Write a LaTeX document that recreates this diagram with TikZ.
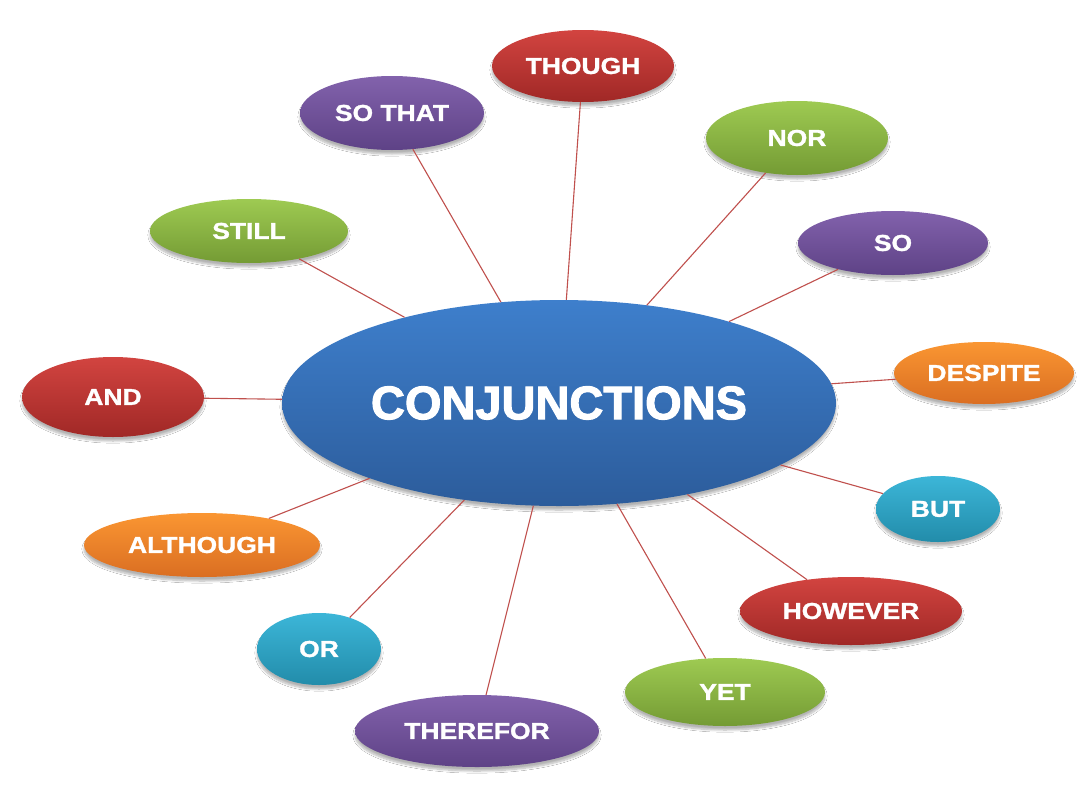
\documentclass[tikz,border=0pt]{standalone}
\usepackage{fontspec}
\setmainfont{Liberation Sans}
\newfontfamily\labfont{Liberation Sans}[FakeStretch=1.15,FakeBold=1.4]
\newfontfamily\mainlab{Liberation Sans}[FakeStretch=1.0,FakeBold=2.2]
\usetikzlibrary{shapes.geometric,shadows.blur}
\definecolor{linkred}{RGB}{192,80,77}
\definecolor{blueT}{RGB}{62,127,204}
\definecolor{blueB}{RGB}{44,92,155}
\definecolor{redT}{RGB}{210,68,64}
\definecolor{redB}{RGB}{160,40,38}
\definecolor{greenT}{RGB}{158,202,82}
\definecolor{greenB}{RGB}{116,155,52}
\definecolor{purpleT}{RGB}{130,98,172}
\definecolor{purpleB}{RGB}{94,66,134}
\definecolor{orangeT}{RGB}{250,150,50}
\definecolor{orangeB}{RGB}{218,110,34}
\definecolor{aquaT}{RGB}{60,182,216}
\definecolor{aquaB}{RGB}{34,140,170}
\tikzset{
  bub/.style={ellipse, inner sep=0pt, text=white,
    font=\labfont\bfseries\fontsize{23}{23}\selectfont,
    blur shadow={shadow xshift=0pt, shadow yshift=-4pt, shadow opacity=30, shadow blur steps=8}},
  cred/.style={bub, top color=redT, bottom color=redB},
  cgreen/.style={bub, top color=greenT, bottom color=greenB},
  cpurple/.style={bub, top color=purpleT, bottom color=purpleB},
  corange/.style={bub, top color=orangeT, bottom color=orangeB},
  caqua/.style={bub, top color=aquaT, bottom color=aquaB},
  cblue/.style={bub, top color=blueT, bottom color=blueB,
    font=\mainlab\bfseries\fontsize{47}{47}\selectfont},
  link/.style={draw=linkred, line width=1.1pt}
}
\begin{document}
\begin{tikzpicture}[x=1pt,y=-1pt]
\fill[white] (0,0) rectangle (1090,798);
\useasboundingbox (0,0) rectangle (1090,798);
\node[cblue, minimum width=554pt, minimum height=206pt] (c) at (559,403) {CONJUNCTIONS};
\node[cred, minimum width=182pt, minimum height=72pt] (though) at (583,66) {THOUGH};
\node[cpurple, minimum width=184pt, minimum height=74pt] (sothat) at (392,113) {SO THAT};
\node[cgreen, minimum width=182pt, minimum height=74pt] (nor) at (797,138) {NOR};
\node[cgreen, minimum width=198pt, minimum height=64pt] (still) at (249,231) {STILL};
\node[cpurple, minimum width=190pt, minimum height=64pt] (so) at (893,243) {SO};
\node[cred, minimum width=182pt, minimum height=80pt] (and) at (113,397) {AND};
\node[corange, minimum width=180pt, minimum height=62pt] (despite) at (984,373) {DESPITE};
\node[caqua, minimum width=124pt, minimum height=66pt] (but) at (938,509) {BUT};
\node[corange, minimum width=236pt, minimum height=64pt] (although) at (202,545) {ALTHOUGH};
\node[cred, minimum width=222pt, minimum height=68pt] (however) at (851,611) {HOWEVER};
\node[caqua, minimum width=124pt, minimum height=72pt] (or) at (319,649) {OR};
\node[cgreen, minimum width=200pt, minimum height=68pt] (yet) at (725,692) {YET};
\node[cpurple, minimum width=244pt, minimum height=72pt] (therefor) at (477,731) {THEREFOR};
\foreach \s in {though,sothat,nor,still,so,and,despite,but,although,however,or,yet,therefor}
  \draw[link] (\s) -- (c);
\end{tikzpicture}
\end{document}
